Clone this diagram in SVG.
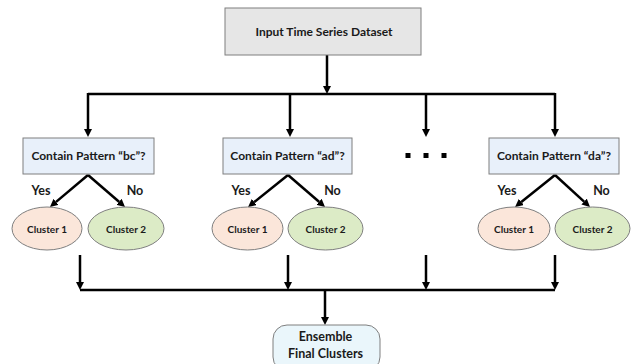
<svg xmlns="http://www.w3.org/2000/svg" width="644" height="364" viewBox="0 0 644 364">
<style>
text{font-family:Lato,"Liberation Sans",sans-serif;font-weight:bold;fill:#1a1a1a;text-anchor:middle}
.box{stroke:#7f7f7f;stroke-width:1}
.pat{fill:#e8f0fa}
.c1{fill:#fbe6da;stroke:#7f7f7f;stroke-width:1}
.c2{fill:#dcebc6;stroke:#7f7f7f;stroke-width:1}
.t12{font-size:12px}
.t11{font-size:12px}
.t10{font-size:10px}
.yn{font-size:12.5px}
.con{stroke:#000;stroke-width:2.5;fill:none}
.arr{stroke:#000;stroke-width:2.5;fill:none;marker-end:url(#ah)}
</style>
<defs>
<marker id="ah" markerUnits="userSpaceOnUse" markerWidth="8" markerHeight="8" viewBox="0 0 8 8" refX="0" refY="4" orient="auto">
<path d="M0,0 L8,4 L0,8 z" fill="#000"/>
</marker>
</defs>
<rect width="644" height="364" fill="#fff"/>
<g id="connectors">
<line class="arr" x1="327" y1="55" x2="327" y2="86"/>
<line class="con" x1="88" y1="94" x2="555" y2="94"/>
<line class="arr" x1="88" y1="93" x2="88" y2="129"/>
<line class="arr" x1="290" y1="93" x2="290" y2="129"/>
<line class="arr" x1="426" y1="93" x2="426" y2="129"/>
<line class="arr" x1="555" y1="93" x2="555" y2="129"/>
<line class="arr" x1="88" y1="175" x2="56.1" y2="201.9"/>
<line class="arr" x1="88" y1="175" x2="119" y2="201.8"/>
<line class="arr" x1="288" y1="175" x2="254.3" y2="202"/>
<line class="arr" x1="288" y1="175" x2="319" y2="201.8"/>
<line class="arr" x1="555" y1="175" x2="521.3" y2="202"/>
<line class="arr" x1="555" y1="175" x2="584.1" y2="201.6"/>
<line class="arr" x1="80" y1="255" x2="80" y2="282"/>
<line class="arr" x1="288" y1="255" x2="288" y2="282"/>
<line class="arr" x1="426" y1="255" x2="426" y2="282"/>
<line class="arr" x1="555" y1="255" x2="555" y2="282"/>
<line class="con" x1="80" y1="290" x2="555" y2="290"/>
<line class="arr" x1="325" y1="289" x2="325" y2="317"/>
</g>
<g id="input">
<rect class="box" x="225" y="8" width="196" height="47" fill="#e6e6e6"/>
<text class="t12" x="324" y="36">Input Time Series Dataset</text>
</g>
<g id="pattern-bc">
<rect class="box pat" x="23" y="138" width="131" height="36"/>
<text class="t11" x="88.5" y="160">Contain Pattern “bc”?</text>
</g>
<g id="pattern-ad">
<rect class="box pat" x="223" y="138" width="129" height="36"/>
<text class="t11" x="287.5" y="160">Contain Pattern “ad”?</text>
</g>
<g id="ellipsis">
<rect x="405.5" y="153" width="5" height="5" fill="#000"/>
<rect x="423.5" y="153" width="5" height="5" fill="#000"/>
<rect x="441.5" y="153" width="5" height="5" fill="#000"/>
</g>
<g id="pattern-da">
<rect class="box pat" x="489" y="138" width="130" height="36"/>
<text class="t11" x="554" y="160">Contain Pattern “da”?</text>
</g>
<g id="labels">
<text class="yn" x="41" y="195">Yes</text>
<text class="yn" x="135" y="195">No</text>
<text class="yn" x="241" y="195">Yes</text>
<text class="yn" x="332.5" y="195">No</text>
<text class="yn" x="507" y="195">Yes</text>
<text class="yn" x="601.5" y="195">No</text>
</g>
<g id="g1-cluster1">
<ellipse class="c1" cx="47" cy="228.5" rx="35" ry="21.5"/>
<text class="t10" x="47" y="232.5">Cluster 1</text>
</g>
<g id="g1-cluster2">
<ellipse class="c2" cx="126" cy="228.5" rx="38" ry="21.5"/>
<text class="t10" x="126" y="232.5">Cluster 2</text>
</g>
<g id="g2-cluster1">
<ellipse class="c1" cx="247.5" cy="228.5" rx="35.5" ry="21.5"/>
<text class="t10" x="247.5" y="232.5">Cluster 1</text>
</g>
<g id="g2-cluster2">
<ellipse class="c2" cx="325.5" cy="228.5" rx="37.5" ry="21.5"/>
<text class="t10" x="325.5" y="232.5">Cluster 2</text>
</g>
<g id="g3-cluster1">
<ellipse class="c1" cx="514" cy="228.5" rx="36" ry="21.5"/>
<text class="t10" x="514" y="232.5">Cluster 1</text>
</g>
<g id="g3-cluster2">
<ellipse class="c2" cx="592.5" cy="228.5" rx="37.5" ry="21.5"/>
<text class="t10" x="592.5" y="232.5">Cluster 2</text>
</g>
<g id="ensemble">
<rect class="box" x="273" y="325" width="107" height="46" rx="14" fill="#eaf6fb"/>
<text class="t12" x="325.5" y="340.5" style="font-size:12.5px">Ensemble</text>
<text class="t12" x="325.5" y="357.5" style="font-size:12.5px">Final Clusters</text>
</g>
</svg>
